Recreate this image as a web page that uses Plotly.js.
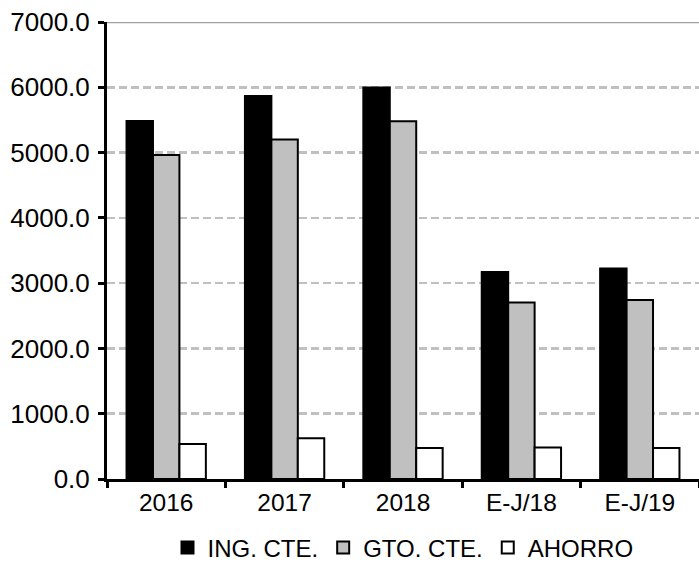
<!DOCTYPE html>
<html>
<head>
<meta charset="utf-8">
<script src="https://cdn.plot.ly/plotly-3.0.1.min.js"></script>
<style>html,body{margin:0;padding:0;background:#fff;}#chart{width:699px;height:569px;}</style>
</head>
<body>
<div id="chart"></div>
<script>
const categories = ["2016", "2017", "2018", "E-J/18", "E-J/19"];
const ingCte = [5484, 5867, 5995, 3171, 3223];
const gtoCte = [4963, 5199, 5480, 2702, 2742];
const ahorro = [536, 623, 475, 481, 475];
const seriesNames = ["ING. CTE.", "GTO. CTE.", "AHORRO"];

const FONT = "Liberation Sans, Arial, Helvetica, sans-serif";

const traces = [
  {type: "bar", name: seriesNames[0], x: categories, y: ingCte,
   marker: {color: "#000000", line: {color: "#000000", width: 2}}},
  {type: "bar", name: seriesNames[1], x: categories, y: gtoCte,
   marker: {color: "#c0c0c0", line: {color: "#000000", width: 2}}},
  {type: "bar", name: seriesNames[2], x: categories, y: ahorro,
   marker: {color: "#ffffff", line: {color: "#000000", width: 2}}}
];

const layout = {
  width: 699, height: 569,
  margin: {l: 107, r: 0, t: 22, b: 90, autoexpand: false},
  paper_bgcolor: "#ffffff", plot_bgcolor: "#ffffff",
  font: {family: FONT, size: 24, color: "#000000"},
  barmode: "group", bargap: 0.33, bargroupgap: 0,
  showlegend: true,
  legend: {orientation: "h", x: 0.5, xanchor: "center", y: -0.151, yanchor: "middle",
           font: {family: FONT, size: 24, color: "#000000"}, itemwidth: 30,
           traceorder: "normal"},
  xaxis: {type: "category", tickson: "boundaries", ticks: "outside", ticklen: 6, tickwidth: 3,
          tickcolor: "#000000", showline: true, linecolor: "#000000", linewidth: 3,
          showgrid: false, tickfont: {family: FONT, size: 24.5, color: "#000000"}, fixedrange: true},
  yaxis: {range: [0, 7000], dtick: 1000, tick0: 0, tickformat: ".1f", ticks: "outside",
          ticklen: 6, tickwidth: 3, tickcolor: "#000000", showline: true, linecolor: "#000000",
          linewidth: 3, showgrid: true, gridcolor: "#c0c0c0", gridwidth: 2.5, griddash: "8px,4px",
          zeroline: false, ticklabelstandoff: 3,
          tickfont: {family: FONT, size: 26, color: "#000000"}, fixedrange: true},
  shapes: [{type: "line", xref: "paper", yref: "y", x0: 0, x1: 1, y0: 7000, y1: 7000,
            line: {color: "#a0a0a0", width: 2.5}, layer: "above"}]
};

Plotly.newPlot("chart", traces, layout, {staticPlot: true, displayModeBar: false});
</script>
</body>
</html>
